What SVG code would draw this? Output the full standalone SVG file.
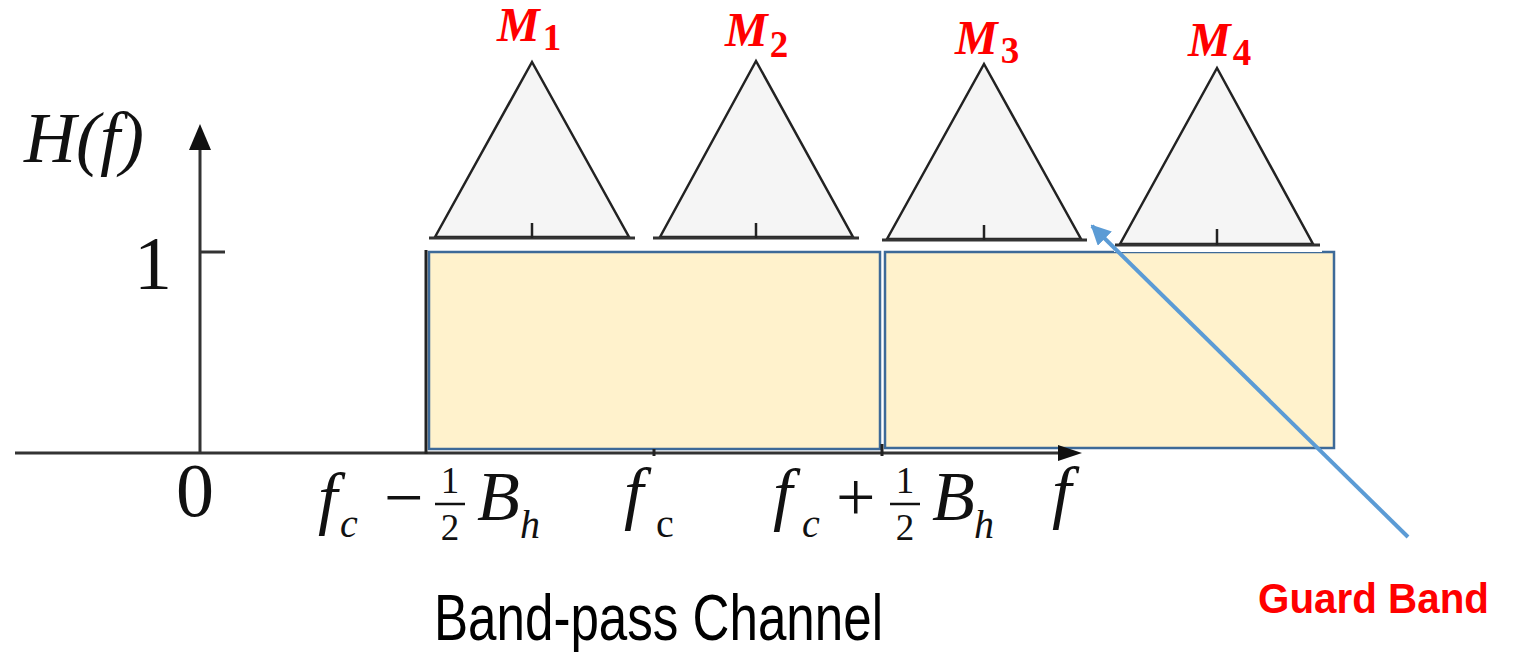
<svg xmlns="http://www.w3.org/2000/svg" width="1516" height="652" viewBox="0 0 1516 652">
<style>
.tri{fill:#f5f5f5;stroke:#222;stroke-width:2.5;stroke-linejoin:miter}
.base{stroke:#333;stroke-width:3}
.tick{stroke:#222;stroke-width:2.5}
.band{fill:#fff2cc;stroke:#3d6a98;stroke-width:2.5}
.ax{stroke:#333;stroke-width:3}
.math{font-family:"Liberation Serif",serif;fill:#111}
.mi{font-style:italic}
.ml{font-family:"Liberation Serif",serif;font-weight:bold;fill:#ff0000}
.cap{font-family:"Liberation Sans",Arial,sans-serif}
</style>
<defs>
<marker id="ah" viewBox="0 0 10 10" refX="9" refY="5" markerWidth="5" markerHeight="5" orient="auto-start-reverse" markerUnits="strokeWidth">
<path d="M0,0 L10,5 L0,10 z" fill="#5b9bd5"/>
</marker>
</defs>
<rect width="1516" height="652" fill="#fff"/>

<g id="band1"><rect class="band" x="429" y="252" width="451" height="197"/></g>
<g id="band2"><rect class="band" x="885" y="252" width="449" height="196"/></g>
<rect x="1114" y="244" width="208" height="8" fill="#fff"/>

<g id="axes">
<line class="ax" x1="15" y1="453" x2="1062" y2="453"/>
<polygon points="1058,445 1082,453 1058,461" fill="#111"/>
<line class="ax" x1="200" y1="453" x2="200" y2="148"/>
<polygon points="189,150 200,124 211,150" fill="#111"/>
<line class="ax" x1="200" y1="252" x2="225" y2="252"/>
<line x1="426" y1="250" x2="426" y2="454" stroke="#222" stroke-width="3"/>
<line x1="882" y1="444" x2="882" y2="456" stroke="#222" stroke-width="3"/>
<line x1="654" y1="449" x2="654" y2="456" stroke="#222" stroke-width="3"/>
<text class="math mi" x="24" y="162" font-size="72">H(f)</text>
<text class="math" x="134" y="289" font-size="76">1</text>
<text class="math" x="176" y="516" font-size="76">0</text>
</g>

<g id="labels">
<text class="math" font-size="70"><tspan class="mi" x="318" y="521">f</tspan><tspan class="mi" x="340" y="537" font-size="40">c</tspan><tspan x="384" y="521">−</tspan><tspan class="mi" x="477" y="520">B</tspan><tspan class="mi" x="520" y="538" font-size="40">h</tspan></text>
<text class="math" font-size="37" text-anchor="middle"><tspan x="450" y="493">1</tspan><tspan x="450" y="540">2</tspan></text>
<line x1="435" y1="504" x2="465" y2="504" stroke="#111" stroke-width="2.5"/>

<text class="math" font-size="70"><tspan class="mi" x="624" y="516">f</tspan><tspan x="656" y="537" font-size="40">c</tspan></text>

<text class="math" font-size="70"><tspan class="mi" x="773" y="517">f</tspan><tspan class="mi" x="802" y="537" font-size="40">c</tspan><tspan x="836" y="521">+</tspan><tspan class="mi" x="932" y="520">B</tspan><tspan class="mi" x="974" y="538" font-size="40">h</tspan></text>
<text class="math" font-size="37" text-anchor="middle"><tspan x="905" y="493">1</tspan><tspan x="905" y="540">2</tspan></text>
<line x1="890" y1="504" x2="920" y2="504" stroke="#111" stroke-width="2.5"/>

<text class="math mi" x="1052" y="515" font-size="70">f</text>
</g>

<g id="M1">
<polygon class="tri" points="435,237 532,62 629,237"/>
<line class="base" x1="429" y1="238" x2="635" y2="238"/>
<line class="tick" x1="532" y1="223" x2="532" y2="238"/>
<text class="ml" x="497" y="41" font-size="48"><tspan font-style="italic">M</tspan><tspan font-size="37" dx="3" dy="9">1</tspan></text>
</g>
<g id="M2">
<polygon class="tri" points="660,237 756,61 853,237"/>
<line class="base" x1="653" y1="238" x2="859" y2="238"/>
<line class="tick" x1="756" y1="223" x2="756" y2="238"/>
<text class="ml" x="725" y="46" font-size="48"><tspan font-style="italic">M</tspan><tspan font-size="37" dx="2" dy="11">2</tspan></text>
</g>
<g id="M3">
<polygon class="tri" points="887,239 984,64 1081,239"/>
<line class="base" x1="882" y1="240" x2="1087" y2="240"/>
<line class="tick" x1="984" y1="225" x2="984" y2="240"/>
<text class="ml" x="955" y="54" font-size="48"><tspan font-style="italic">M</tspan><tspan font-size="37" dx="3" dy="9">3</tspan></text>
</g>
<g id="M4">
<polygon class="tri" points="1120,244 1217,68 1313,244"/>
<line class="base" x1="1115" y1="245" x2="1320" y2="245"/>
<line class="tick" x1="1217" y1="229" x2="1217" y2="245"/>
<text class="ml" x="1188" y="56" font-size="48"><tspan font-style="italic">M</tspan><tspan font-size="37" dx="2" dy="9">4</tspan></text>
</g>

<g id="connectors">
<line x1="1408" y1="537" x2="1092" y2="226" stroke="#5b9bd5" stroke-width="4" marker-end="url(#ah)"/>
</g>

<g id="guard-band">
<text class="cap" x="1258" y="613" font-size="42" font-weight="bold" fill="#ff0000" textLength="231" lengthAdjust="spacingAndGlyphs">Guard Band</text>
</g>
<g id="caption">
<text class="cap" x="434" y="640" font-size="64" fill="#000" textLength="449" lengthAdjust="spacingAndGlyphs">Band-pass Channel</text>
</g>
</svg>
